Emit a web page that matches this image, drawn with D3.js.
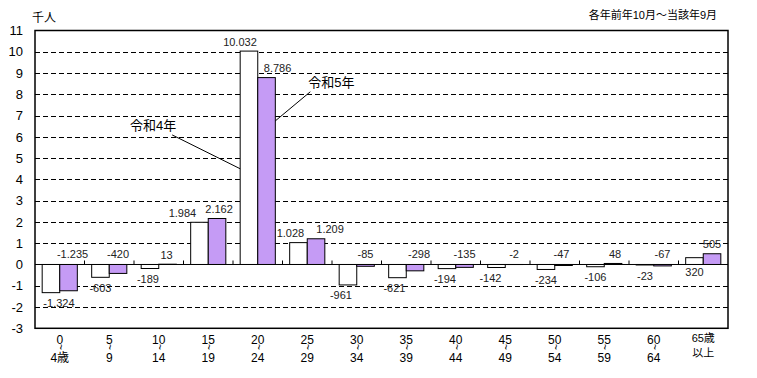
<!DOCTYPE html>
<html>
<head>
<meta charset="utf-8">
<script src="https://cdn.jsdelivr.net/npm/d3@7"></script>
<style>
    body { margin: 0; background: #fff; }
    svg { display: block; font-family: "Liberation Sans", Arial, "Noto Sans CJK JP", sans-serif; }
</style>
</head>
<body>
<svg id="chart"></svg>
<script>
// Data (thousand people)
const ageTop = ['0', '5', '10', '15', '20', '25', '30', '35', '40', '45', '50', '55', '60', '65歳'];
const ageBottom = ['4歳', '9', '14', '19', '24', '29', '34', '39', '44', '49', '54', '59', '64', '以上'];
const seriesNames = ['令和4年', '令和5年'];
const valuesR4 = [-1.324, -0.603, -0.189, 1.984, 10.032, 1.028, -0.961, -0.621, -0.194, -0.142, -0.234, -0.106, -0.023, 0.320];
const valuesR5 = [-1.235, -0.420, 0.013, 2.162, 8.786, 1.209, -0.085, -0.298, -0.135, -0.002, -0.047, 0.048, -0.067, 0.505];
const yTicks = [-3, -2, -1, 0, 1, 2, 3, 4, 5, 6, 7, 8, 9, 10, 11];
const unitLabel = '千人';
const periodNote = '各年前年10月～当該年9月';

// Layout
const config = {
    width: 757,
    height: 378,
    plot: { left: 35, right: 728, top: 30.5, bottom: 328.3 },
    barFill: ['#ffffff', '#c59bf5'],
    // small horizontal nudges for value labels (as in the source chart)
    labelShift: [
        [8, 0, -2, -17, -9, -8, -7, -3, -2, -6, 0, 0, 0, 0],
        [4, 0, -1, 2, 11, 14, 0, 4, 0, 0, -2, 2, 0, 0]
    ]
};

const svg = d3.select('#chart')
    .attr('width', config.width)
    .attr('height', config.height);

const x = d3.scaleBand()
    .domain(d3.range(ageTop.length))
    .range([config.plot.left, config.plot.right])
    .paddingInner(0.29)
    .paddingOuter(0.145);

const y = d3.scaleLinear()
    .domain([-3, 11])
    .range([config.plot.bottom, config.plot.top]);

const barW = x.bandwidth() / 2;
const fmt = v => {
    const n = Math.round(Math.abs(v) * 1000);
    const s = n >= 1000 ? Math.floor(n / 1000) + '.' + String(n % 1000).padStart(3, '0') : String(n);
    return (v < 0 ? '-' : '') + s;
};

// Dashed gridlines
svg.append('g').selectAll('line')
    .data(yTicks.filter(t => t !== 0 && t !== -3 && t !== 11))
    .enter().append('line')
    .attr('x1', config.plot.left)
    .attr('x2', config.plot.right)
    .attr('y1', d => Math.round(y(d)) + 0.5)
    .attr('y2', d => Math.round(y(d)) + 0.5)
    .attr('stroke', '#000')
    .attr('stroke-width', 1)
    .attr('stroke-dasharray', '5,3');

// Y tick labels
svg.append('g').selectAll('text')
    .data(yTicks)
    .enter().append('text')
    .attr('x', 23)
    .attr('y', d => y(d))
    .attr('dy', '0.36em')
    .attr('text-anchor', 'end')
    .attr('font-size', 13)
    .attr('fill', '#000')
    .text(d => d);

// Bars
const series = [valuesR4, valuesR5];
series.forEach((vals, s) => {
    svg.append('g').selectAll('rect')
        .data(vals)
        .enter().append('rect')
        .attr('x', (d, i) => x(i) + s * barW)
        .attr('y', d => y(Math.max(0, d)))
        .attr('width', barW)
        .attr('height', d => Math.abs(y(d) - y(0)))
        .attr('fill', config.barFill[s])
        .attr('stroke', '#000')
        .attr('stroke-width', 1);
});

// Zero line and category ticks
svg.append('line')
    .attr('x1', config.plot.left).attr('x2', config.plot.right)
    .attr('y1', y(0)).attr('y2', y(0))
    .attr('stroke', '#000').attr('stroke-width', 1);

const step = x.step();
svg.append('g').selectAll('line')
    .data(d3.range(1, ageTop.length))
    .enter().append('line')
    .attr('x1', i => x(i) - step * x.paddingInner() / 2)
    .attr('x2', i => x(i) - step * x.paddingInner() / 2)
    .attr('y1', y(0))
    .attr('y2', y(0) - 4)
    .attr('stroke', '#000');

// Value labels
series.forEach((vals, s) => {
    svg.append('g').selectAll('text')
        .data(vals)
        .enter().append('text')
        .attr('x', (d, i) => x(i) + s * barW + barW / 2 + config.labelShift[s][i])
        .attr('y', d => {
            if (s === 0 && d < 0) return Math.max(y(d) + 10.5, y(0) + 12);
            if (s === 0 && d < 0.4) return y(0) + 8;
            if (d < 0) return y(0) - 10;
            return y(d) - 9.5;
        })
        .attr('dy', '0.36em')
        .attr('text-anchor', 'middle')
        .attr('font-size', 11)
        .attr('fill', '#222')
        .text(d => fmt(d));
});

// Plot frame
svg.append('rect')
    .attr('x', config.plot.left)
    .attr('y', config.plot.top)
    .attr('width', config.plot.right - config.plot.left)
    .attr('height', config.plot.bottom - config.plot.top)
    .attr('fill', 'none')
    .attr('stroke', '#000')
    .attr('stroke-width', 1.5);

// X category labels
const xl = svg.append('g').selectAll('g')
    .data(ageTop)
    .enter().append('g')
    .attr('transform', (d, i) => `translate(${x(i) + x.bandwidth() / 2}, 0)`);
const last = ageTop.length - 1;
xl.append('text')
    .attr('y', (d, i) => i === last ? 338.5 : 340).attr('dy', '0.36em')
    .attr('text-anchor', 'middle')
    .attr('font-size', (d, i) => i === last ? 11 : 12)
    .attr('fill', '#000')
    .text(d => d);
xl.filter((d, i) => i !== last).append('text')
    .attr('transform', 'translate(0,347) rotate(90)')
    .attr('dy', '0.3em')
    .attr('text-anchor', 'middle').attr('font-size', 10).attr('fill', '#000')
    .text('~');
xl.append('text')
    .attr('y', (d, i) => i === last ? 353 : 357.5).attr('dy', '0.36em')
    .attr('text-anchor', 'middle')
    .attr('font-size', (d, i) => i === last ? 11 : 12)
    .attr('fill', '#000')
    .text((d, i) => ageBottom[i]);

// Series callouts
const callouts = [
    { name: seriesNames[0], textX: x(4) - 87, textV: 6.56, lineX0: x(4) - 68, lineV0: 6.09, lineX1: x(4), lineV1: 4.5 },
    { name: seriesNames[1], textX: x(4) + 2 * barW + 56, textV: 8.58, lineX0: x(4) + 2 * barW + 35, lineV0: 8.12, lineX1: x(4) + 2 * barW, lineV1: 6.75 }
];
callouts.forEach(c => {
    svg.append('line')
        .attr('x1', c.lineX0).attr('y1', y(c.lineV0))
        .attr('x2', c.lineX1).attr('y2', y(c.lineV1))
        .attr('stroke', '#000').attr('stroke-width', 1);
    svg.append('text')
        .attr('x', c.textX).attr('y', y(c.textV)).attr('dy', '0.36em')
        .attr('text-anchor', 'middle').attr('font-size', 13).attr('fill', '#000')
        .text(c.name);
});

// Unit and period notes
svg.append('text')
    .attr('x', 32).attr('y', 18).attr('dy', '0.36em')
    .attr('font-size', 12).attr('fill', '#000')
    .text(unitLabel);
svg.append('text')
    .attr('x', 717).attr('y', 15).attr('dy', '0.36em')
    .attr('text-anchor', 'end').attr('font-size', 11).attr('fill', '#000')
    .text(periodNote);
</script>
</body>
</html>
